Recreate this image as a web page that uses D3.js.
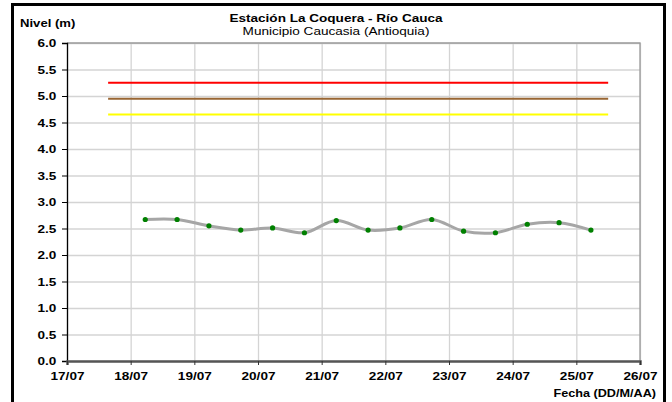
<!DOCTYPE html>
<html>
<head>
<meta charset="utf-8">
<script src="https://cdn.jsdelivr.net/npm/d3@7"></script>
<style>
    body { margin: 0; background: #fff; }
    svg text { font-family: "Liberation Sans", Arial, sans-serif; }
</style>
</head>
<body>
<div id="chart"></div>
<script>
// Readings (every half day) and alert levels.
const dates = [
    "2013-07-18 05:30", "2013-07-18 17:30", "2013-07-19 05:30", "2013-07-19 17:30",
    "2013-07-20 05:30", "2013-07-20 17:30", "2013-07-21 05:30", "2013-07-21 17:30",
    "2013-07-22 05:30", "2013-07-22 17:30", "2013-07-23 05:30", "2013-07-23 17:30",
    "2013-07-24 05:30", "2013-07-24 17:30", "2013-07-25 05:30"
];
const levels = [2.67, 2.67, 2.55, 2.47, 2.51, 2.42, 2.65, 2.47, 2.51, 2.67, 2.45, 2.42, 2.58, 2.61, 2.47];

const alertNames = ["roja", "naranja", "amarilla"];
const alertLevels = [5.25, 4.95, 4.65];
const alertColors = ["#ff0000", "#996633", "#ffff00"];
const alertSpan = ["2013-07-17 15:30", "2013-07-25 12:00"];

const xDomain = ["2013-07-17 00:00", "2013-07-26 00:00"];
const yTicks = [0, 0.5, 1, 1.5, 2, 2.5, 3, 3.5, 4, 4.5, 5, 5.5, 6];

const parse = d3.timeParse("%Y-%m-%d %H:%M");

const width = 672, height = 402;
const margin = { top: 43, left: 67, right: 32, bottom: 41 };
const innerW = width - margin.left - margin.right;
const innerH = height - margin.top - margin.bottom;

// The original text is a little wider than the font, stretch it sideways.
const stretch = 1.18;

const svg = d3.select("#chart").append("svg")
    .attr("width", width)
    .attr("height", height);

// Outer frame, bottom edge falls outside the picture
svg.append("rect")
    .attr("x", 12.5).attr("y", 4.5)
    .attr("width", 652).attr("height", 420)
    .style("fill", "none")
    .style("stroke", "#000")
    .style("stroke-width", 3);

const x = d3.scaleTime()
    .domain(xDomain.map(parse))
    .range([0, innerW]);

const y = d3.scaleLinear()
    .domain([0, 6])
    .range([innerH, 0]);

const g = svg.append("g")
    .attr("transform", "translate(" + margin.left + "," + margin.top + ")");

// Grid lines
g.append("g")
    .attr("class", "grid")
    .call(d3.axisLeft(y).tickValues(yTicks).tickSize(-innerW).tickFormat(""))
    .call(s => s.select(".domain").remove())
    .call(s => s.selectAll("line").style("stroke", "#d4d4d4").style("stroke-width", 1.3));

g.append("g")
    .attr("class", "grid")
    .attr("transform", "translate(0," + innerH + ")")
    .call(d3.axisBottom(x).ticks(d3.timeDay.every(1)).tickSize(-innerH).tickFormat(""))
    .call(s => s.select(".domain").remove())
    .call(s => s.selectAll("line").style("stroke", "#d4d4d4").style("stroke-width", 1.3));

// Plot area border (top and right)
g.append("path")
    .attr("d", "M0,0H" + innerW + "V" + innerH)
    .style("fill", "none")
    .style("stroke", "#9a9a9a")
    .style("stroke-width", 1.3);

// Alert levels
alertLevels.forEach(function (v, i) {
    g.append("line")
        .attr("class", "alert-" + alertNames[i])
        .attr("x1", x(parse(alertSpan[0])))
        .attr("x2", x(parse(alertSpan[1])))
        .attr("y1", y(v))
        .attr("y2", y(v))
        .style("stroke", alertColors[i])
        .style("stroke-width", 2);
});

const data = dates.map((d, i) => ({ date: parse(d), value: levels[i] }));

// Smoothed level line
const line = d3.line()
    .x(d => x(d.date))
    .y(d => y(d.value))
    .curve(d3.curveCatmullRom.alpha(0.5));

g.append("path")
    .attr("d", line(data))
    .style("fill", "none")
    .style("stroke", "#a6a6a6")
    .style("stroke-width", 3);

g.selectAll(".dot")
    .data(data)
    .enter().append("circle")
    .attr("class", "dot")
    .attr("cx", d => x(d.date))
    .attr("cy", d => y(d.value))
    .attr("r", 2.6)
    .style("fill", "#008000");

// Axes
const yAxis = g.append("g")
    .call(d3.axisLeft(y).tickValues(yTicks).tickSize(5).tickPadding(4).tickFormat(d3.format(".1f")));
yAxis.select(".domain").style("stroke", "#000").style("stroke-width", 1.3);
yAxis.selectAll("line").style("stroke", "#000");
yAxis.selectAll("text")
    .attr("transform", "scale(" + stretch + ",1)")
    .style("font-size", "11.5px")
    .style("font-weight", "bold")
    .style("fill", "#000");

const xAxis = g.append("g")
    .attr("transform", "translate(0," + innerH + ")")
    .call(d3.axisBottom(x).ticks(d3.timeDay.every(1)).tickSize(4).tickPadding(7)
        .tickFormat(d3.timeFormat("%d/%m")));
xAxis.select(".domain").style("stroke", "#555").style("stroke-width", 2.5);
xAxis.selectAll("line").style("stroke", "#333");
xAxis.selectAll("text")
    .attr("transform", "scale(" + stretch + ",1)")
    .style("font-size", "11.5px")
    .style("font-weight", "bold")
    .style("fill", "#000");

// Titles
const label = function (tx, ty, anchor, bold, txt, sx) {
    svg.append("text")
        .attr("transform", "translate(" + tx + "," + ty + ") scale(" + (sx || stretch) + ",1)")
        .style("text-anchor", anchor)
        .style("font-size", "11.5px")
        .style("font-weight", bold ? "bold" : "normal")
        .text(txt);
};

label(336, 22, "middle", true, "Estación La Coquera - Río Cauca");
label(336, 35, "middle", false, "Municipio Caucasia (Antioquia)");
label(20, 27, "start", true, "Nivel (m)", 1.14);
label(656, 397, "end", true, "Fecha (DD/M/AA)", 1.1);
</script>
</body>
</html>
